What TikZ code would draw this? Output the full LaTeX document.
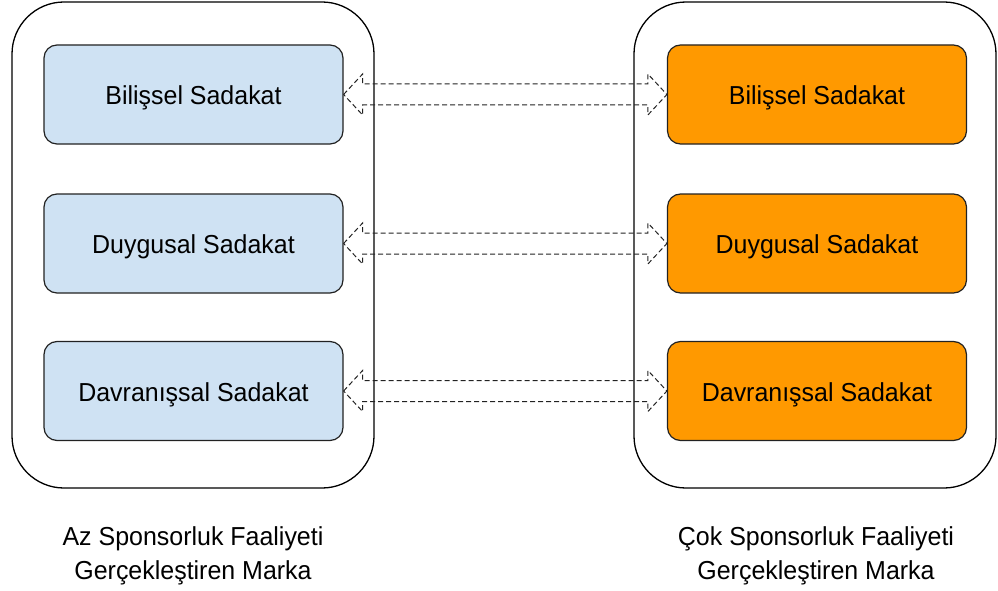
\documentclass[tikz,border=0pt]{standalone}
\usepackage{fontspec}
\setmainfont[FakeStretch=0.96]{Liberation Sans}
\usetikzlibrary{calc}
\definecolor{lblue}{HTML}{CFE2F3}
\definecolor{orng}{HTML}{FF9900}
\definecolor{edge}{HTML}{222222}
\tikzset{
  container/.style={draw=black, line width=1.3pt, rounded corners=52pt, minimum width=362pt, minimum height=486pt, inner sep=0pt},
  card/.style={draw=edge, line width=1.2pt, rounded corners=13pt, minimum width=299pt, minimum height=99pt, inner sep=0pt, font=\fontsize{26}{30}\selectfont, text depth=0pt},
  leftcard/.style={card, fill=lblue},
  rightcard/.style={card, fill=orng},
  caption/.style={align=center, font=\fontsize{26}{34}\selectfont, inner sep=0pt},
  dblarrow/.style={draw=edge, line width=1pt, dash pattern=on 5pt off 3pt, line join=miter}
}
\newcommand{\hollowarrow}[2]{%
  \draw[dblarrow] (#1.east)
    -- ($(#1.east)+(19,-20.5)$) -- ($(#1.east)+(19,-10.5)$)
    -- ($(#2.west)+(-19,-10.5)$) -- ($(#2.west)+(-19,-20.5)$)
    -- (#2.west)
    -- ($(#2.west)+(-19,20.5)$) -- ($(#2.west)+(-19,10.5)$)
    -- ($(#1.east)+(19,10.5)$) -- ($(#1.east)+(19,20.5)$) -- cycle;}
\begin{document}
\begin{tikzpicture}[x=1pt,y=-1pt]
\useasboundingbox (0,0) rectangle (998,591);
\node[container] (cl) at (193,245) {};
\node[container] (cr) at (815,245) {};
\node[leftcard, text height=20pt] (l1) at (193.5,94.5) {Bilişsel Sadakat};
\node[leftcard, text height=20pt] (l2) at (193.5,243.5) {Duygusal Sadakat};
\node[leftcard, text height=20pt] (l3) at (193.5,391) {Davranışsal Sadakat};
\node[rightcard, text height=20pt] (r1) at (817,94.5) {Bilişsel Sadakat};
\node[rightcard, text height=20pt] (r2) at (817,243.5) {Duygusal Sadakat};
\node[rightcard, text height=20pt] (r3) at (817,391) {Davranışsal Sadakat};
\hollowarrow{l1}{r1}
\hollowarrow{l2}{r2}
\hollowarrow{l3}{r3}
\node[caption] (capl) at (193,556) {Az Sponsorluk Faaliyeti\\Gerçekleştiren Marka};
\node[caption] (capr) at (816,556) {Çok Sponsorluk Faaliyeti\\Gerçekleştiren Marka};
\end{tikzpicture}
\end{document}
